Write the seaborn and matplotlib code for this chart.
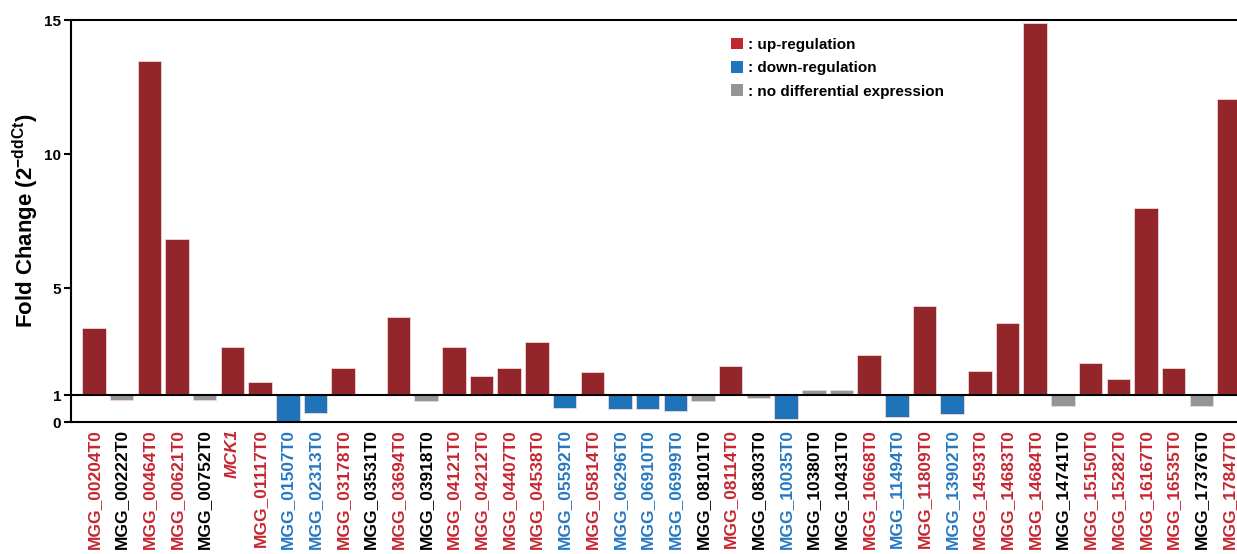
import numpy as np
import pandas as pd
import matplotlib
matplotlib.use("Agg")
import matplotlib.pyplot as plt
from matplotlib.patches import Patch
import seaborn as sns

# genes along the x axis, left to right
genes = ['MGG_00204T0', 'MGG_00222T0', 'MGG_00464T0', 'MGG_00621T0', 'MGG_00752T0',
         'MCK1', 'MGG_01117T0', 'MGG_01507T0', 'MGG_02313T0', 'MGG_03178T0',
         'MGG_03531T0', 'MGG_03694T0', 'MGG_03918T0', 'MGG_04121T0', 'MGG_04212T0',
         'MGG_04407T0', 'MGG_04538T0', 'MGG_05592T0', 'MGG_05814T0', 'MGG_06296T0',
         'MGG_06910T0', 'MGG_06999T0', 'MGG_08101T0', 'MGG_08114T0', 'MGG_08303T0',
         'MGG_10035T0', 'MGG_10380T0', 'MGG_10431T0', 'MGG_10668T0', 'MGG_11494T0',
         'MGG_11809T0', 'MGG_13902T0', 'MGG_14593T0', 'MGG_14683T0', 'MGG_14684T0',
         'MGG_14741T0', 'MGG_15150T0', 'MGG_15282T0', 'MGG_16167T0', 'MGG_16535T0',
         'MGG_17376T0', 'MGG_17847T0']

# fold change (2^-ddCt)
fold_change = [3.50, 0.82, 13.47, 6.81, 0.82,
               2.80, 1.49, 0.00, 0.32, 2.00,
               1.05, 3.92, 0.80, 2.80, 1.70,
               2.01, 3.00, 0.52, 1.88, 0.50,
               0.50, 0.40, 0.78, 2.09, 0.91,
               0.11, 1.20, 1.18, 2.50, 0.20,
               4.32, 0.30, 1.89, 3.69, 14.87,
               0.60, 2.20, 1.60, 7.99, 2.00,
               0.60, 12.06]

# up / down / none
regulation = ['up', 'none', 'up', 'up', 'none',
              'up', 'up', 'down', 'down', 'up',
              'none', 'up', 'none', 'up', 'up',
              'up', 'up', 'down', 'up', 'down',
              'down', 'down', 'none', 'up', 'none',
              'down', 'none', 'none', 'up', 'down',
              'up', 'down', 'up', 'up', 'up',
              'none', 'up', 'up', 'up', 'up',
              'none', 'up']

legend_labels = [': up-regulation', ': down-regulation', ': no differential expression']

bar_colors = {'up': '#93262b', 'down': '#1f73b9', 'none': '#949598'}
legend_colors = {'up': '#c1272d', 'down': '#1f75be', 'none': '#949598'}
label_colors = {'up': '#c62631', 'down': '#2578c1', 'none': '#000000'}

df = pd.DataFrame({'gene': genes, 'fc': fold_change, 'reg': regulation})
df['delta'] = df['fc'] - 1  # bars start at fold change 1

plt.rcParams['font.family'] = ['Liberation Sans', 'DejaVu Sans']
plt.rcParams['font.weight'] = 'bold'
plt.rcParams['mathtext.fontset'] = 'custom'
plt.rcParams['mathtext.bf'] = 'Liberation Sans:bold'
plt.rcParams['mathtext.rm'] = 'Liberation Sans:bold'

fig = plt.figure(figsize=(12.37, 5.54), dpi=100)
ax = fig.add_axes([71 / 1237, (554 - 422) / 554, (1252 - 71) / 1237, (422 - 20) / 554])

sns.barplot(data=df, x='gene', y='delta', hue='reg', palette=bar_colors, dodge=False,
            width=0.85, bottom=1, saturation=1, edgecolor='#f2d6d6', linewidth=0.6,
            legend=False, ax=ax)

ax.axhline(1, color='black', lw=1.5, zorder=5)
ax.set_xlim(-0.83, len(genes) - 1 + 0.83)
ax.set_ylim(0, 15)
ax.set_yticks([0, 1, 5, 10, 15])
ax.set_yticklabels(['0', '1', '5', '10', '15'], fontsize=11, fontweight='bold')
ax.tick_params(axis='y', direction='out', length=5, width=1.5, pad=2)
ax.tick_params(axis='x', length=0, pad=5)

ax.set_xticks(range(len(genes)))
ax.set_xticklabels(genes, rotation=90, fontsize=12.5, fontweight='bold', va='top', ha='center')
for lab, reg in zip(ax.get_xticklabels(), regulation):
    lab.set_color(label_colors[reg])
    if lab.get_text() == 'MCK1':
        lab.set_style('italic')

ax.set_xlabel('')
ax.set_ylabel(r'Fold Change (2$^{\mathbf{-ddCt}}$)', fontsize=16, fontweight='bold', labelpad=2)

for side in ['left', 'bottom', 'top']:
    ax.spines[side].set_linewidth(1.5)
    ax.spines[side].set_color('black')
ax.spines['right'].set_visible(False)

handles = [Patch(facecolor=legend_colors[k], edgecolor='none') for k in ['up', 'down', 'none']]
ax.legend(handles, legend_labels, loc='upper left', bbox_to_anchor=(0.547, 0.99),
          frameon=False, handlelength=0.8, handleheight=0.8, handletextpad=0.3,
          labelspacing=0.6, prop={'size': 11, 'weight': 'bold'})

fig.savefig('out.png', dpi=100)
